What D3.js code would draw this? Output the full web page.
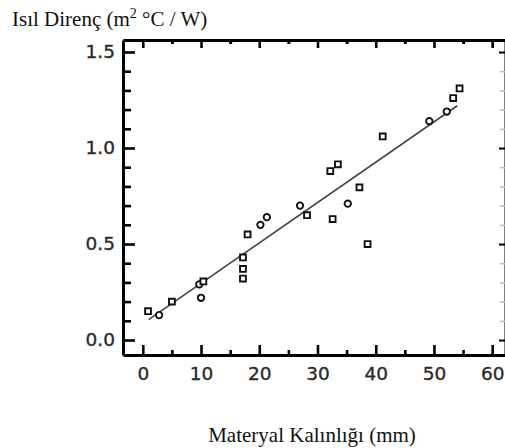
<!DOCTYPE html>
<html><head><meta charset="utf-8">
<script src="https://cdn.jsdelivr.net/npm/d3@7"></script>
<style>html,body{margin:0;padding:0;background:#fff;}svg{display:block;}</style>
</head><body>
<svg id="c" width="505" height="448"></svg>
<script>
// Data
const thickness  = [0.9, 2.8, 5.0, 10.0, 9.7, 10.4, 17.2, 17.2, 17.2, 18.0, 20.2, 21.3, 27.0, 28.2, 32.2, 33.5, 32.6, 35.2, 37.2, 38.6, 41.2, 49.2, 52.2, 53.3, 54.4];
const resistance = [0.15, 0.13, 0.20, 0.22, 0.29, 0.305, 0.32, 0.37, 0.43, 0.55, 0.60, 0.64, 0.70, 0.65, 0.88, 0.915, 0.63, 0.71, 0.795, 0.50, 1.06, 1.14, 1.19, 1.26, 1.31];
const shapes     = ["s","c","s","c","c","s","s","s","s","s","c","c","c","s","s","s","s","c","s","s","s","c","c","s","s"];
const fitX = [1, 54];
const fitY = [0.106, 1.22];
const xTicks = [0, 10, 20, 30, 40, 50, 60];
const xMinor = [5, 15, 25, 35, 45, 55];
const yTicks = [0.0, 0.5, 1.0, 1.5];
const yMinor = [0.1, 0.2, 0.3, 0.4, 0.6, 0.7, 0.8, 0.9, 1.1, 1.2, 1.3, 1.4];
const yTitle = ["Isıl Direnç (m", "2", " °C / W)"];
const xTitle = "Materyal Kalınlığı (mm)";

const svg = d3.select("#c");
const x = d3.scaleLinear().domain([-3.4, 62.2]).range([123, 505]);
const y = d3.scaleLinear().domain([-0.078, 1.5625]).range([355, 40]);
const fmt = d3.format(".1f");

const L = x.range()[0], R = x.range()[1], B = y.range()[0], T = y.range()[1];
const styleLabels = s => s.attr("font-family", "DejaVu Sans").attr("font-size", 18.5)
  .attr("fill", "#2a2a2a").attr("stroke", "#2a2a2a").attr("stroke-width", 0.35);
// left axis
svg.append("g").attr("transform", `translate(${L},0)`)
  .call(d3.axisLeft(y).tickValues(yTicks).tickFormat(fmt).tickSize(-12).tickSizeOuter(0).tickPadding(20))
  .call(g => g.select(".domain").attr("stroke-width", 3))
  .call(g => g.selectAll(".tick line").attr("stroke-width", 2.6))
  .call(g => g.selectAll(".tick text").call(styleLabels).attr("x", -8));
svg.append("g").attr("transform", `translate(${L},0)`)
  .call(d3.axisLeft(y).tickValues(yMinor).tickFormat("").tickSize(-8).tickSizeOuter(0))
  .call(g => g.select(".domain").remove())
  .call(g => g.selectAll(".tick line").attr("stroke-width", 2.6));
// bottom axis
svg.append("g").attr("transform", `translate(0,${B})`)
  .call(d3.axisBottom(x).tickValues(xTicks).tickFormat(d3.format("d")).tickSize(-10).tickSizeOuter(0).tickPadding(18))
  .call(g => g.select(".domain").attr("stroke-width", 3))
  .call(g => g.selectAll(".tick line").attr("stroke-width", 2.6))
  .call(g => g.selectAll(".tick text").call(styleLabels).attr("y", 12));
svg.append("g").attr("transform", `translate(0,${B})`)
  .call(d3.axisBottom(x).tickValues(xMinor).tickFormat("").tickSize(-5).tickSizeOuter(0))
  .call(g => g.select(".domain").remove())
  .call(g => g.selectAll(".tick line").attr("stroke-width", 2.6));
// top axis
svg.append("g").attr("transform", `translate(0,${T})`)
  .call(d3.axisTop(x).tickValues(xTicks).tickFormat("").tickSize(-8).tickSizeOuter(0))
  .call(g => g.select(".domain").attr("stroke-width", 3))
  .call(g => g.selectAll(".tick line").attr("stroke-width", 2.6));
svg.append("g").attr("transform", `translate(0,${T})`)
  .call(d3.axisTop(x).tickValues(xMinor).tickFormat("").tickSize(-4).tickSizeOuter(0))
  .call(g => g.select(".domain").remove())
  .call(g => g.selectAll(".tick line").attr("stroke-width", 3));
// right axis (line at canvas edge, ticks visible)
svg.append("g").attr("transform", `translate(${R},0)`)
  .call(d3.axisRight(y).tickValues(yTicks).tickFormat("").tickSize(-6).tickSizeOuter(0))
  .call(g => g.select(".domain").attr("stroke-width", 2))
  .call(g => g.selectAll(".tick line").attr("stroke-width", 2));
svg.append("g").attr("transform", `translate(${R},0)`)
  .call(d3.axisRight(y).tickValues(yMinor).tickFormat("").tickSize(-5).tickSizeOuter(0))
  .call(g => g.select(".domain").remove())
  .call(g => g.selectAll(".tick line").attr("stroke", "#bbb").attr("stroke-width", 1.5));

// regression line
svg.append("path")
  .datum(fitX.map((d, i) => [d, fitY[i]]))
  .attr("d", d3.line().x(d => x(d[0])).y(d => y(d[1])))
  .attr("fill", "none").attr("stroke", "#444").attr("stroke-width", 1.6);

// points
const pts = thickness.map((d, i) => ({t: d, r: resistance[i], s: shapes[i]}));
svg.append("g").selectAll("path.pt").data(pts).join("path")
  .attr("class", "pt")
  .attr("transform", d => `translate(${x(d.t)},${y(d.r)})`)
  .attr("d", d => d3.symbol().type(d.s === "c" ? d3.symbolCircle : d3.symbolSquare).size(d.s === "c" ? 32 : 34)())
  .attr("fill", "#fff").attr("stroke", "#111").attr("stroke-width", 1.9);

// titles
const yt = svg.append("text").attr("x", 12).attr("y", 26)
  .attr("font-family", "Liberation Serif").attr("font-size", 21).attr("fill", "#111");
yt.append("tspan").text(yTitle[0]);
yt.append("tspan").attr("font-size", 14).attr("dy", -8).text(yTitle[1]);
yt.append("tspan").attr("dy", 8).text(yTitle[2]);

svg.append("text").attr("x", 312).attr("y", 442).attr("text-anchor", "middle")
  .attr("font-family", "Liberation Serif").attr("font-size", 21).attr("fill", "#111")
  .text(xTitle);
</script>
</body></html>
